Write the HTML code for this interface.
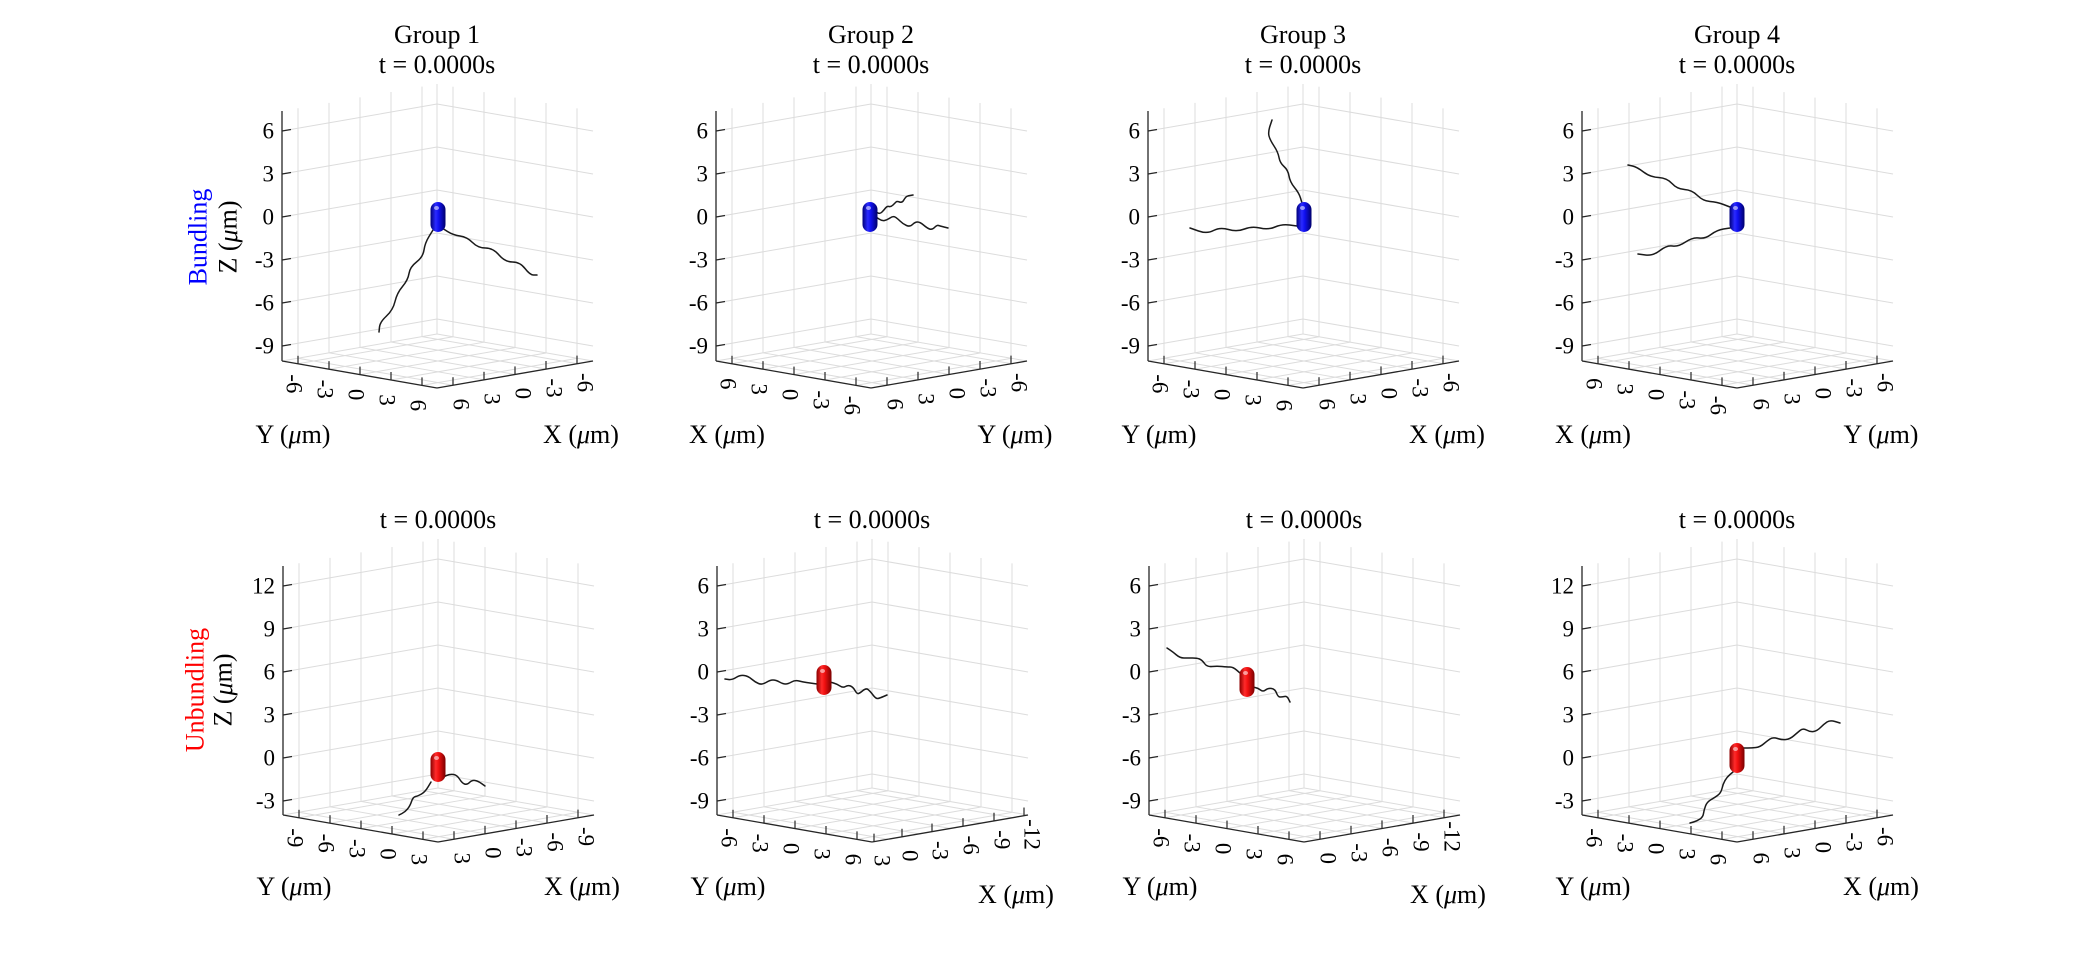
<!DOCTYPE html>
<html><head><meta charset="utf-8">
<style>
html,body{margin:0;padding:0;background:#fff;font-family:"Liberation Serif","DejaVu Serif",serif;}
svg{display:block;font-family:"Liberation Serif","DejaVu Serif",serif;}
text{font-family:"Liberation Serif","DejaVu Serif",serif;fill:#000;}
</style></head>
<body>
<svg id="s" width="2100" height="960" viewBox="0 0 2100 960" xmlns="http://www.w3.org/2000/svg" font-family="Liberation Serif, DejaVu Serif, serif">
<defs>
<linearGradient id="gb" x1="0" x2="1" y1="0" y2="0">
<stop offset="0" stop-color="#00007a"/><stop offset="0.35" stop-color="#2a2aff"/><stop offset="0.55" stop-color="#1010f0"/><stop offset="1" stop-color="#00006a"/></linearGradient>
<linearGradient id="gr" x1="0" x2="1" y1="0" y2="0">
<stop offset="0" stop-color="#8a0000"/><stop offset="0.35" stop-color="#ff2a2a"/><stop offset="0.55" stop-color="#f01010"/><stop offset="1" stop-color="#7a0000"/></linearGradient>
</defs>
<text x="198" y="237" font-size="26" style="fill:#0000ff" text-anchor="middle" dominant-baseline="central" transform="rotate(-90 198 237)">Bundling</text>
<text x="228" y="237" font-size="26" text-anchor="middle" dominant-baseline="central" transform="rotate(-90 228 237)">Z (<tspan font-style="italic">μ</tspan>m)</text>
<text x="195" y="690" font-size="26" style="fill:#ff0000" text-anchor="middle" dominant-baseline="central" transform="rotate(-90 195 690)">Unbundling</text>
<text x="223" y="690" font-size="26" text-anchor="middle" dominant-baseline="central" transform="rotate(-90 223 690)">Z (<tspan font-style="italic">μ</tspan>m)</text>
</svg>
<script>
var S=document.getElementById('s');var NS='http://www.w3.org/2000/svg';
var FF='Liberation Serif, DejaVu Serif, serif';
function el(t,a,txt){var e=document.createElementNS(NS,t);for(var k in a)e.setAttribute(k,a[k]);if(t=='text')e.setAttribute('font-family',FF);if(txt!==undefined)e.textContent=txt;S.appendChild(e);return e;}
function line(x1,y1,x2,y2,c,w){el('line',{x1:x1,y1:y1,x2:x2,y2:y2,stroke:c,'stroke-width':w||1});}
var D=[16,47,78,109,140];
var panels=[
 {L:282,top:111,bot:361,zt:[6,3,0,-3,-6,-9],zy0:131,lt:[-6,-3,0,3,6],rt:[6,3,0,-3,-6],xl:'Y',xr:'X',title:['Group 1','t = 0.0000s'],col:'b',cap:[438,217],
  f:[[[433,230],[425,243],[423,257],[410,267],[408,280],[397,293],[393,310],[380,322],[379,332]],[[442,228],[453,235],[467,237],[478,248],[493,248],[505,262],[520,262],[530,275],[537,275]]]},
 {L:716,top:111,bot:361,zt:[6,3,0,-3,-6,-9],zy0:131,lt:[6,3,0,-3,-6],rt:[6,3,0,-3,-6],xl:'X',xr:'Y',title:['Group 2','t = 0.0000s'],col:'b',cap:[870,217],
  f:[[[876,212],[880,214],[884,210],[887,206],[891,207],[895,203],[897,201],[902,203],[905,198],[907,196],[913,195]],[[876,217],[882,221],[887,220],[893,216],[897,218],[903,224],[910,227],[915,222],[920,222],[927,228],[932,230],[937,225],[940,226],[948,228]]]},
 {L:1148,top:111,bot:361,zt:[6,3,0,-3,-6,-9],zy0:131,lt:[-6,-3,0,3,6],rt:[6,3,0,-3,-6],xl:'Y',xr:'X',title:['Group 3','t = 0.0000s'],col:'b',cap:[1304,217],
  f:[[[1302,203],[1299,193],[1290,182],[1288,170],[1280,163],[1278,152],[1270,140],[1268,132],[1272,120]],[[1297,226],[1282,224],[1268,230],[1252,226],[1237,232],[1220,227],[1207,234],[1190,228]]]},
 {L:1582,top:111,bot:361,zt:[6,3,0,-3,-6,-9],zy0:131,lt:[6,3,0,-3,-6],rt:[6,3,0,-3,-6],xl:'X',xr:'Y',title:['Group 4','t = 0.0000s'],col:'b',cap:[1737,217],
  f:[[[1730,207],[1717,202],[1703,201],[1692,190],[1677,189],[1667,178],[1650,177],[1637,167],[1628,165]],[[1730,228],[1717,230],[1705,239],[1693,237],[1678,247],[1667,245],[1653,256],[1638,254]]]},
 {L:283,top:566,bot:815,zt:[12,9,6,3,0,-3],zy0:586,lt:[-9,-6,-3,0,3],rt:[3,0,-3,-6,-9],xl:'Y',xr:'X',title:['t = 0.0000s'],col:'r',cap:[438,767],xry:895,
  f:[[[431,782],[425,792],[418,796],[413,797],[410,806],[405,812],[399,815]],[[443,777],[450,774],[457,775],[462,783],[467,785],[472,780],[478,781],[485,786]]]},
 {L:717,top:566,bot:815,zt:[6,3,0,-3,-6,-9],zy0:586,lt:[-6,-3,0,3,6],rt:[3,0,-3,-6,-9,-12],xl:'Y',xr:'X',title:['t = 0.0000s'],col:'r',cap:[824,680],xry:903,
  f:[[[817,684],[810,683],[803,682],[795,680],[788,684],[783,684],[776,680],[770,680],[762,685],[755,682],[748,676],[740,675],[732,680],[725,679]],[[830,682],[837,684],[843,688],[848,685],[853,687],[857,694],[860,693],[866,688],[870,691],[876,699],[880,698],[887,695]]]},
 {L:1149,top:566,bot:815,zt:[6,3,0,-3,-6,-9],zy0:586,lt:[-6,-3,0,3,6],rt:[0,-3,-6,-9,-12],xl:'Y',xr:'X',title:['t = 0.0000s'],col:'r',cap:[1247,682],xry:903,
  f:[[[1240,673],[1233,667],[1227,667],[1217,666],[1207,667],[1202,660],[1197,658],[1188,658],[1180,658],[1173,652],[1167,648]],[[1252,687],[1258,688],[1263,692],[1268,688],[1275,689],[1278,697],[1282,697],[1287,696],[1290,702]]]},
 {L:1582,top:566,bot:815,zt:[12,9,6,3,0,-3],zy0:586,lt:[-6,-3,0,3,6],rt:[6,3,0,-3,-6],xl:'Y',xr:'X',title:['t = 0.0000s'],col:'r',cap:[1737,758],xry:895,
  f:[[[1743,748],[1752,748],[1760,747],[1767,741],[1773,737],[1782,740],[1790,739],[1797,733],[1803,728],[1810,732],[1817,731],[1824,724],[1830,720],[1840,723]],[[1733,772],[1727,777],[1723,784],[1721,793],[1714,798],[1707,802],[1704,810],[1703,817],[1697,821],[1690,823]]]}
];
var sl=27/155;
panels.forEach(function(p){
 var L=p.L,C=L+155,R=L+311,bot=p.bot,top=p.top;
 var backBot=bot-27,backTop=top-27,front=bot+27;
 var g='#dcdcdc';
 for(var i=0;i<p.zt.length;i++){var y=p.zy0+i*43;line(L,y,C,y-27,g,1);line(C,y-27,R,y,g,1);}
 line(C,backTop,C,backBot,g,1);
 D.forEach(function(d){
  var x=L+d;line(x,top-d*sl,x,bot-d*sl,g,1);
  var x2=C+d;line(x2,backTop+d*sl,x2,backBot+d*sl,g,1);
  line(L+d,bot-d*sl,C+d,front-d*sl,g,1);
  line(C+d,backBot+d*sl,L+d,bot+d*sl,g,1);
 });
 line(L,bot,C,backBot,g,1);line(C,backBot,R,bot,g,1);
 line(L,top,L,bot,'#262626',1.3);line(L,bot,C,front,'#262626',1.3);line(C,front,R,bot,'#262626',1.3);
 for(var i=0;i<p.zt.length;i++){var y=p.zy0+i*43;line(L,y,L+9,y-1.5,'#262626',1.2);
  el('text',{x:L-8,y:y,'font-size':23,'text-anchor':'end','dominant-baseline':'central',fill:'#262626'},String(p.zt[i]));}
 var n=p.lt.length;
 for(var i=0;i<n;i++){var d=D[i];var x=L+d,y=bot+d*sl;line(x,y,x,y-8,'#262626',1.2);
  var lx=x-4,ly=y+20;el('text',{x:lx,y:ly,'font-size':23,'text-anchor':'middle','dominant-baseline':'central',fill:'#262626',transform:'rotate(90 '+lx+' '+ly+')'},String(p.lt[i]));}
 var m=p.rt.length;var DR=m==6?[2,30,60,91,122,152]:D;
 for(var i=0;i<m;i++){var d=DR[i];var x=C+d,y=front-d*sl;line(x,y,x,y-8,'#262626',1.2);
  var lx=x+8,ly=y+19;el('text',{x:lx,y:ly,'font-size':23,'text-anchor':'middle','dominant-baseline':'central',fill:'#262626',transform:'rotate(90 '+lx+' '+ly+')'},String(p.rt[i]));}
 var by=(top<300)?443:895;var ry=p.xry||by;
 var t1=el('text',{x:L+11,y:by,'font-size':26,'text-anchor':'middle',fill:'#262626'});t1.innerHTML=p.xl+' (<tspan font-style="italic">μ</tspan>m)';
 var t2=el('text',{x:L+299,y:ry,'font-size':26,'text-anchor':'middle',fill:'#262626'});t2.innerHTML=p.xr+' (<tspan font-style="italic">μ</tspan>m)';
 if(p.title.length==2){el('text',{x:C,y:43,'font-size':26,'text-anchor':'middle'},p.title[0]);el('text',{x:C,y:73,'font-size':26,'text-anchor':'middle'},p.title[1]);}
 else el('text',{x:C,y:528,'font-size':26,'text-anchor':'middle'},p.title[0]);
 p.f.forEach(function(pts){
  var s='M'+pts[0][0]+' '+pts[0][1];
  for(var i=1;i<pts.length;i++){var a=pts[i-1],b=pts[i];var mx=(a[0]+b[0])/2,my=(a[1]+b[1])/2;s+=' Q'+a[0]+' '+a[1]+' '+mx+' '+my;}
  var l=pts[pts.length-1];s+=' L'+l[0]+' '+l[1];
  el('path',{d:s,fill:'none',stroke:'#1a1a1a','stroke-width':1.5,'stroke-linecap':'round','stroke-linejoin':'round'});
 });
 var cx=p.cap[0],cy=p.cap[1];
 el('rect',{x:cx-7.5,y:cy-15,width:15,height:30,rx:7.5,ry:7.5,fill:p.col=='b'?'url(#gb)':'url(#gr)'});
 el('ellipse',{cx:cx-1.5,cy:cy-9,rx:2.5,ry:2,fill:'#ffffff','fill-opacity':0.55});
});
</script>
</body></html>
